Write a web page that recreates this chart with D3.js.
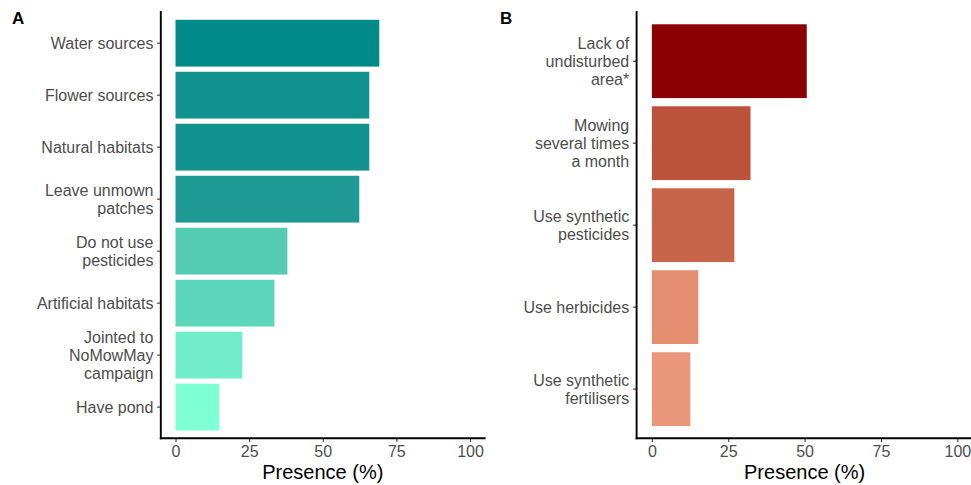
<!DOCTYPE html>
<html>
<head>
<meta charset="utf-8">
<script src="https://cdn.jsdelivr.net/npm/d3@7"></script>
<style>
  html, body { margin: 0; padding: 0; background: #fff; }
  svg { display: block; }
  text { font-family: "Liberation Sans", Arial, sans-serif; }
</style>
</head>
<body>
<svg id="chart" width="971" height="485"></svg>
<script>
// Panel A: supportive garden practices (presence, %)
const practicesA = [
  "Water sources",
  "Flower sources",
  "Natural habitats",
  "Leave unmown\npatches",
  "Do not use\npesticides",
  "Artificial habitats",
  "Jointed to\nNoMowMay\ncampaign",
  "Have pond"
];
const presenceA = [69.2, 65.8, 65.8, 62.4, 38.0, 33.6, 22.7, 14.9];

// Panel B: detrimental garden practices (presence, %)
const practicesB = [
  "Lack of\nundisturbed\narea*",
  "Mowing\nseveral times\na month",
  "Use synthetic\npesticides",
  "Use herbicides",
  "Use synthetic\nfertilisers"
];
const presenceB = [50.7, 32.3, 27.0, 15.2, 12.6];

const xTicks = [0, 25, 50, 75, 100];
const xTitle = "Presence (%)";

const svg = d3.select("#chart");

function drawPanel(cfg) {
  const { tag, tagX, cats, vals, left, right, top, bottom, lowCol, highCol } = cfg;
  const g = svg.append("g");

  const x = d3.scaleLinear().domain([-5, 105]).range([left, right]);
  const y = d3.scaleBand().domain(cats).range([top, bottom])
    .paddingInner(0.1).paddingOuter(0.15);
  const fill = d3.scaleLinear()
    .domain(d3.extent(vals))
    .range([lowCol, highCol])
    .interpolate(d3.interpolateLab);

  // bars
  g.selectAll("rect.bar")
    .data(cats.map((c, i) => ({ c, v: vals[i] })))
    .join("rect")
    .attr("class", "bar")
    .attr("x", x(0))
    .attr("y", d => y(d.c))
    .attr("width", d => x(d.v) - x(0))
    .attr("height", y.bandwidth())
    .attr("fill", d => fill(d.v));

  // x axis
  const xAxis = d3.axisBottom(x).tickValues(xTicks).tickSizeInner(3.7).tickSizeOuter(0).tickPadding(3.7);
  const gx = g.append("g").attr("transform", `translate(0,${bottom})`).call(xAxis);
  gx.select(".domain").remove();
  gx.selectAll(".tick line").attr("stroke", "#333333").attr("stroke-width", 1.07);
  gx.selectAll(".tick text").attr("fill", "#4d4d4d").attr("font-size", 16)
    .attr("font-family", "Liberation Sans, Arial, sans-serif");

  // y axis with multi-line labels
  const yAxis = d3.axisLeft(y).tickSizeInner(3.7).tickSizeOuter(0).tickPadding(3.7).tickFormat("");
  const gy = g.append("g").attr("transform", `translate(${left},0)`).call(yAxis);
  gy.select(".domain").remove();
  gy.selectAll(".tick line").attr("stroke", "#333333").attr("stroke-width", 1.07);
  gy.selectAll(".tick text").remove();
  const lh = 17.6;
  gy.selectAll(".tick").each(function (d) {
    const lines = d.split("\n");
    const t = d3.select(this).append("text")
      .attr("x", -7.4)
      .attr("text-anchor", "end")
      .attr("fill", "#4d4d4d")
      .attr("font-size", 16);
    lines.forEach((ln, k) => {
      t.append("tspan")
        .attr("x", -7.4)
        .attr("y", (k - (lines.length - 1) / 2) * lh + 5.8)
        .text(ln);
    });
  });

  // axis lines
  g.append("line").attr("x1", left).attr("x2", right).attr("y1", bottom).attr("y2", bottom)
    .attr("stroke", "#000").attr("stroke-width", 1.9).attr("stroke-linecap", "square");
  g.append("line").attr("x1", left).attr("x2", left).attr("y1", top).attr("y2", bottom)
    .attr("stroke", "#000").attr("stroke-width", 1.9).attr("stroke-linecap", "square");

  // axis title
  g.append("text")
    .attr("x", (left + right) / 2)
    .attr("y", 478.5)
    .attr("text-anchor", "middle")
    .attr("font-size", 20)
    .attr("fill", "#000")
    .text(xTitle);

  // panel tag
  g.append("text")
    .attr("x", tagX)
    .attr("y", 24)
    .attr("font-size", 17)
    .attr("font-weight", "bold")
    .attr("fill", "#000")
    .text(tag);
}

drawPanel({
  tag: "A", tagX: 12,
  cats: practicesA, vals: presenceA,
  left: 160.8, right: 484.7, top: 12, bottom: 438.3,
  lowCol: "aquamarine", highCol: "darkcyan"
});

drawPanel({
  tag: "B", tagX: 500,
  cats: practicesB, vals: presenceB,
  left: 636.6, right: 972.6, top: 12, bottom: 438.3,
  lowCol: "darksalmon", highCol: "darkred"
});
</script>
</body>
</html>
